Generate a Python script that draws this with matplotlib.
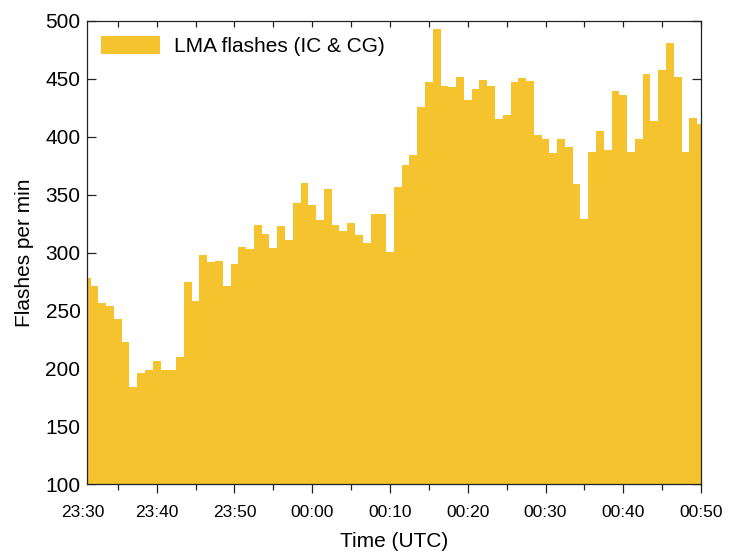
import numpy as np
import matplotlib
matplotlib.use("Agg")
import matplotlib.pyplot as plt
from matplotlib.ticker import MultipleLocator

plt.rcParams['font.family'] = ['Liberation Sans', 'DejaVu Sans']

# flashes per minute, one bar per minute from 23:31 to 00:50
flashes = [278, 271, 257, 254, 243, 223, 184, 196, 199, 207,
           199, 199, 210, 275, 258, 298, 292, 293, 271, 290,
           305, 303, 324, 316, 304, 323, 311, 343, 360, 341,
           328, 355, 324, 319, 326, 315, 308, 333, 333, 301,
           357, 376, 384, 426, 447, 493, 444, 443, 452, 432,
           441, 449, 444, 415, 419, 447, 451, 448, 402, 398,
           386, 398, 391, 359, 329, 387, 405, 389, 440, 436,
           387, 398, 454, 414, 458, 481, 452, 387, 416, 411]
minutes = np.arange(1, len(flashes) + 1)  # minutes after 23:30

tick_min = [0, 10, 20, 30, 40, 50, 60, 70, 80]
tick_lab = ['23:30', '23:40', '23:50', '00:00', '00:10', '00:20', '00:30', '00:40', '00:50']

bar_col = '#F4C32E'

fig = plt.figure(figsize=(7.31, 5.52), dpi=100)
ax = fig.add_axes([0.1186, 0.1223, 0.8404, 0.8397])

ax.bar(minutes, flashes, width=1.0, color=bar_col, edgecolor='none',
       bottom=0, zorder=2, label='LMA flashes (IC & CG)')

# the 23:30 tick falls just left of the axis, so only 23:40 onward are real ticks
ax.set_xticks(tick_min[1:])
ax.set_xticklabels(tick_lab[1:])
ax.set_xticks(np.arange(5, 81, 10), minor=True)
ax.yaxis.set_major_locator(MultipleLocator(50))

for s in ax.spines.values():
    s.set_linewidth(0.9)
    s.set_color('#222222')
    s.set_zorder(3)

ax.tick_params(axis='x', which='major', direction='out', length=6.7, width=0.9,
               labelsize=12.5, pad=8, top=False, color='#222222')
ax.tick_params(axis='x', which='minor', direction='out', length=4.3, width=0.9,
               top=False, color='#222222')
ax.tick_params(axis='y', which='major', direction='in', length=6.7, width=0.9,
               labelsize=15, pad=4.5, right=True, color='#222222')

# top axis: short inward ticks every 5 minutes
sec = ax.secondary_xaxis('top')
sec.set_xticks(np.arange(5, 81, 5))
sec.tick_params(which='both', direction='in', length=4, width=0.9, labeltop=False, color='#222222')
sec.spines['top'].set_visible(False)

ax.set_xlim(1, 80)
ax.set_ylim(100, 500)

# 23:30 label sits just left of the axis start
ax.annotate(tick_lab[0], xy=(0.46, 0), xycoords=('data', 'axes fraction'),
            xytext=(0, -(6.7 + 8)), textcoords='offset points',
            ha='center', va='top', fontsize=12.5, annotation_clip=False)

ax.set_xlabel('Time (UTC)', fontsize=15, labelpad=8.5)
ax.set_ylabel('Flashes per min', fontsize=15, labelpad=8)

ax.legend(loc='upper left', frameon=False, fontsize=15, handlelength=2.8,
          handleheight=0.95, handletextpad=0.7, borderaxespad=0.3)

fig.savefig('out.png', dpi=100)
